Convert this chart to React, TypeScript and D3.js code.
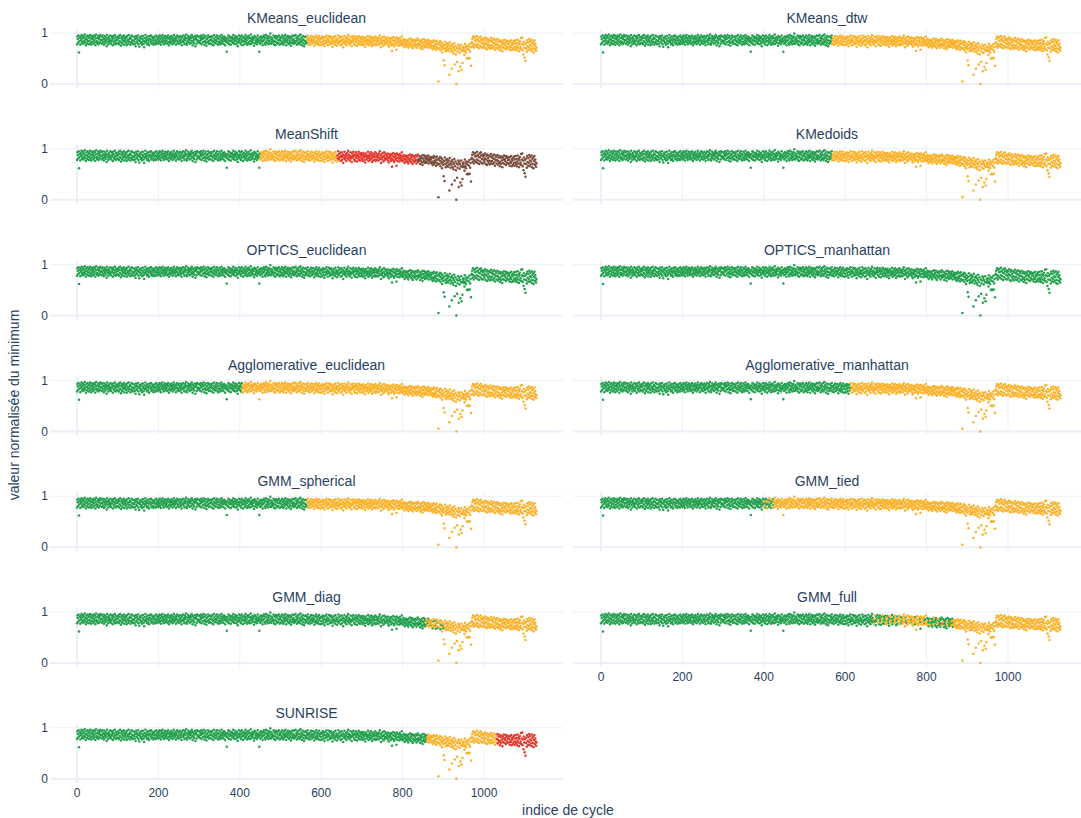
import React from "react";
import * as d3 from "d3";

// Normalised minimum per cycle (hundredths), in blocks of cycles
const cycles0to99 = [
  78,93,88,81,95,62,84,90,77,92, 86,96,80,89,83,94,79,91,85,97,
  82,88,76,93,87,80,95,84,90,78, 92,85,96,81,89,77,94,83,88,91,
  79,95,86,82,93,76,89,97,84,80, 90,83,94,78,88,92,81,96,85,87,
  93,79,86,95,82,90,77,88,94,84, 80,91,87,74,96,83,89,78,92,85,
  88,81,95,84,79,93,86,90,76,94, 83,89,80,96,85,78,92,87,81,91,
];
const cycles100to199 = [
  87,80,94,78,90,84,96,82,75,89, 93,79,86,91,83,95,77,88,85,92,
  81,90,76,94,84,87,79,96,83,88, 91,77,89,82,95,80,86,93,78,85,
  84,92,79,88,74,94,83,90,81,87, 95,78,86,73,91,84,89,80,93,82,
  77,88,94,85,79,72,90,83,96,86, 82,91,78,87,93,80,85,76,89,94,
  88,83,95,79,86,92,81,89,77,90, 85,93,80,87,78,95,84,91,82,88,
];
const cycles200to299 = [
  79,92,85,95,81,88,77,93,84,90, 96,82,87,78,91,85,94,80,89,83,
  86,93,79,90,95,82,76,88,84,92, 80,89,94,83,87,78,91,85,96,81,
  88,84,92,77,90,86,95,80,83,93, 91,79,87,85,94,81,89,76,92,84,
  85,95,82,88,78,93,86,90,97,80, 77,89,84,94,82,88,91,79,86,93,
  90,81,96,85,76,92,83,89,80,87, 94,74,88,91,79,95,84,86,93,82,
];
const cycles300to399 = [
  84,93,80,90,86,95,78,88,92,82, 89,96,83,77,91,85,94,81,75,88,
  82,90,95,84,79,92,86,80,93,87, 91,78,85,94,83,76,89,96,81,86,
  80,92,87,84,95,79,90,77,88,83, 94,82,78,91,86,96,80,89,84,92,
  79,88,93,85,76,90,83,87,63,82, 90,80,95,86,78,93,84,89,77,91,
  85,92,81,88,96,83,79,90,86,94, 78,89,84,92,80,74,88,83,95,85,
];
const cycles400to499 = [
  89,81,93,78,87,95,83,90,76,85, 92,84,79,88,96,82,91,86,77,93,
  80,89,94,83,78,90,85,97,79,88, 84,92,81,87,90,75,94,80,92,86,
  83,90,78,86,95,82,88,84,63,91, 79,86,93,81,89,84,76,92,85,95,
  87,80,91,77,96,83,89,81,94,86, 78,90,84,93,80,99,87,79,91,83,
  88,82,85,95,78,92,84,76,89,94, 82,91,79,87,93,81,95,86,77,90,
];
const cycles500to599 = [
  86,79,92,83,95,80,89,77,85,93, 81,88,96,84,76,91,83,87,94,80,
  90,78,85,93,82,89,75,92,80,86, 95,83,88,79,94,85,81,96,84,90,
  77,86,93,80,89,82,95,78,87,97, 82,91,84,76,88,94,80,86,74,92,
  85,79,93,83,81,90,86,95,78,87, 89,82,77,91,84,94,86,79,88,81,
  93,84,87,75,92,80,90,83,95,78, 86,91,81,89,77,94,84,88,76,90,
];
const cycles600to699 = [
  82,90,77,88,93,84,79,91,74,86, 92,80,85,95,82,89,76,87,83,94,
  85,78,91,81,93,79,88,84,73,90, 80,92,86,83,77,94,82,89,85,75,
  87,81,95,79,90,84,83,92,76,86, 93,78,84,89,72,88,81,94,85,79,
  83,90,76,87,92,82,96,80,88,84, 77,86,93,81,84,74,91,83,87,94,
  85,79,89,76,88,93,82,86,75,90, 87,81,94,78,84,91,77,88,83,92,
];
const cycles700to799 = [
  80,89,76,86,92,83,78,88,73,85, 91,79,84,87,81,94,76,86,82,90,
  78,85,93,80,88,74,83,91,77,86, 84,89,79,93,76,85,90,78,83,88,
  86,77,91,82,95,80,87,72,89,83, 79,92,84,75,86,93,78,82,90,81,
  88,80,85,91,77,83,73,89,81,86, 83,76,90,80,65,87,78,92,84,74,
  77,90,83,86,80,67,91,76,88,82, 87,81,75,90,84,78,86,80,93,76,
];
const cycles800to869 = [
  83,76,88,79,85,72,80,87,75,84, 78,86,74,82,71,87,79,76,89,81,
  75,84,73,88,79,70,85,77,86,74, 82,76,87,78,71,85,77,89,74,80,
  76,86,79,70,84,77,82,73,87,68, 81,74,88,77,83,72,86,75,80,85,
  73,82,78,87,71,80,76,84,79,74,
];
const cycles870to969 = [
  80,71,84,75,68,82,73,86,70,77, 74,83,67,78,85,72,79,69,5,81,
  70,77,84,66,75,82,71,62,79,73, 68,46,76,37,83,70,64,78,72,67,
  80,74,65,77,69,18,82,71,63,75, 68,30,78,64,73,60,70,80,38,66,
  75,58,0,71,43,63,69,77,25,74, 61,70,34,66,77,28,65,41,72,68,
  73,64,57,79,66,71,62,75,50,69, 51,74,50,67,78,51,63,72,36,80,
];
const cycles970to1069 = [
  82,88,74,93,79,71,90,76,85,92, 74,86,79,94,72,88,77,84,70,91,
  83,75,93,87,72,80,89,71,85,78, 88,74,81,91,70,79,86,68,89,76,
  82,72,87,77,69,85,75,90,71,83, 76,86,70,81,89,73,80,67,87,77,
  84,71,78,88,69,76,83,72,86,66, 74,82,70,85,77,64,83,72,79,87,
  70,80,76,86,68,82,73,85,71,78, 83,71,79,67,84,75,72,86,66,80,
];
const cycles1070to1129 = [
  77,68,82,72,85,67,79,73,86,70, 80,66,75,87,71,81,64,78,84,69,
  73,90,68,79,91,66,77,58,83,71, 52,78,45,70,81,63,86,74,67,82,
  72,88,66,77,84,69,75,87,64,80, 70,83,62,76,86,68,79,73,65,71,
];

const panelNames = [
  "KMeans_euclidean", "KMeans_dtw",
  "MeanShift", "KMedoids",
  "OPTICS_euclidean", "OPTICS_manhattan",
  "Agglomerative_euclidean", "Agglomerative_manhattan",
  "GMM_spherical", "GMM_tied",
  "GMM_diag", "GMM_full",
  "SUNRISE",
];

// [first cycle index, cluster] runs for each panel
const panelSegments: number[][][] = [
  [[0, 0], [565, 1]],
  [[0, 0], [568, 1]],
  [[0, 0], [450, 1], [640, 2], [838, 3]],
  [[0, 0], [568, 1]],
  [[0, 0]],
  [[0, 0]],
  [[0, 0], [406, 1]],
  [[0, 0], [613, 1]],
  [[0, 0], [565, 1]],
  [[0, 0], [400, 1], [402, 0], [407, 1], [409, 0], [413, 1], [415, 0], [419, 1], [421, 0], [424, 1]],
  [[0, 0], [858, 1], [861, 0], [864, 1], [868, 0], [870, 1], [874, 0], [876, 1], [880, 0],
   [883, 1], [886, 0], [888, 1], [893, 0], [895, 1], [899, 0], [901, 1]],
  [[0, 0], [670, 1], [673, 0], [680, 1], [682, 0], [690, 1], [693, 0], [700, 1], [704, 0],
   [710, 1], [713, 0], [720, 1], [725, 0], [730, 1], [736, 0], [740, 1], [748, 0], [751, 1],
   [761, 0], [763, 1], [771, 0], [773, 1], [783, 0], [786, 1], [794, 0], [797, 1], [802, 0],
   [808, 1], [810, 0], [817, 1], [819, 0], [827, 1], [829, 0], [838, 1], [840, 0], [850, 1],
   [852, 0], [860, 1], [862, 0], [866, 1]],
  [[0, 0], [860, 1], [1032, 2]],
];

const clusterColors = ["#23a04e", "#fbb22a", "#e5392d", "#7b4d3c"];
const xTicks = [0, 200, 400, 600, 800, 1000];
const yTicks = [0, 1];

const values = [
  ...cycles0to99, ...cycles100to199, ...cycles200to299, ...cycles300to399,
  ...cycles400to499, ...cycles500to599, ...cycles600to699, ...cycles700to799,
  ...cycles800to869, ...cycles870to969, ...cycles970to1069, ...cycles1070to1129,
].map((v) => v / 100);

const W = 1081;
const H = 818;
const FONT = "'Liberation Sans', Arial, sans-serif";
const TEXT = "#2a3f5f";
const GRID = "#ebf0f8";

const colLeft = [50, 573];
const colRight = [563, 1081];
const colZero = [77, 601];
const rowStep = 115.8;

function clusterAt(segs: number[][], i: number) {
  let c = segs[0][1];
  for (const s of segs) if (i >= s[0]) c = s[1];
  return c;
}

function Panel({ idx }: { idx: number }) {
  const row = Math.floor(idx / 2);
  const col = idx % 2;
  const y1 = 33 + rowStep * row;
  const y0 = 84 + rowStep * row;
  const x = d3.scaleLinear().domain([0, 1000]).range([colZero[col], colZero[col] + 407]);
  const y = d3.scaleLinear().domain([0, 1]).range([y0, y1]);
  const top = y(1.08);
  const bottom = y(-0.08);
  const segs = panelSegments[idx];
  const showX = (col === 0 && row === 6) || (col === 1 && row === 5);
  const cx = (colLeft[col] + colRight[col]) / 2;
  const pts = values.map((v, i) => ({ i, v, c: clusterAt(segs, i) }));
  pts.sort((a, b) => a.c - b.c);
  return (
    <g>
      {xTicks.map((t) => (
        <line key={"gx" + t} x1={x(t)} x2={x(t)} y1={top} y2={bottom} stroke={GRID} strokeWidth={t === 0 ? 2 : 1} />
      ))}
      {yTicks.map((t) => (
        <line key={"gy" + t} x1={colLeft[col]} x2={colRight[col]} y1={y(t)} y2={y(t)} stroke={GRID} strokeWidth={t === 0 ? 2 : 1} />
      ))}
      {pts.map((p) => (
        <circle key={p.i} cx={x(p.i)} cy={y(p.v)} r={1.25} fill={clusterColors[p.c]} />
      ))}
      <text x={cx} y={top - 6} textAnchor="middle" fontFamily={FONT} fontSize={14} fill={TEXT}>
        {panelNames[idx]}
      </text>
      {col === 0 &&
        yTicks.map((t) => (
          <text key={"ly" + t} x={colLeft[0] - 2} y={y(t)} dy="0.35em" textAnchor="end" fontFamily={FONT} fontSize={12} fill={TEXT}>
            {t}
          </text>
        ))}
      {showX &&
        xTicks.map((t) => (
          <text key={"lx" + t} x={x(t)} y={bottom + 14} textAnchor="middle" fontFamily={FONT} fontSize={12} fill={TEXT}>
            {t}
          </text>
        ))}
    </g>
  );
}

export default function App() {
  return (
    <svg width={W} height={H} style={{ position: "absolute", left: 0, top: 0, background: "#fff" }}>
      <rect width={W} height={H} fill="#fff" />
      {panelNames.map((_, i) => (
        <Panel key={i} idx={i} />
      ))}
      <text x={568} y={815} textAnchor="middle" fontFamily={FONT} fontSize={14} fill={TEXT}>
        indice de cycle
      </text>
      <text transform="translate(19,405) rotate(-90)" textAnchor="middle" fontFamily={FONT} fontSize={14} fill={TEXT}>
        valeur normalisée du minimum
      </text>
    </svg>
  );
}
